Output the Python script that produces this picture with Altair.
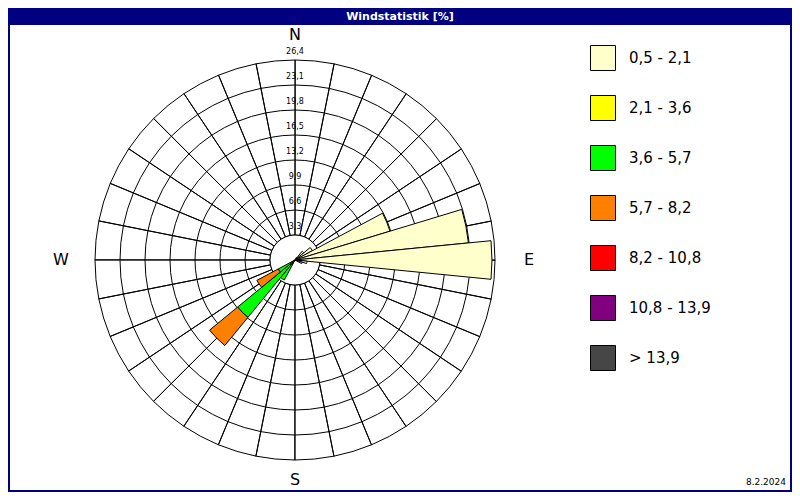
import altair as alt
import pandas as pd

# ---------------- data ----------------
title_text = "Windstatistik [%]"
date_text = "8.2.2024"

classes = ["0,5 - 2,1", "2,1 - 3,6", "3,6 - 5,7", "5,7 - 8,2",
           "8,2 - 10,8", "10,8 - 13,9", "\u00a0> 13,9"]
class_colors = ["#FFFFCC", "#FFFF00", "#00FF00", "#FF8000",
                "#FF0000", "#800080", "#464646"]

directions = [33.75, 45.0, 56.25, 67.5, 78.75, 90.0, 101.25, 112.5, 213.75, 225.0, 236.25]
c1 = [0.4, 1.5, 2.6, 13.1, 23.0, 26.0, 1.6, 1.0, 0.2, 0.4, 0.2]
c2 = [0.0, 0.0, 0.0, 0.0, 0.0, 0.0, 0.0, 0.0, 0.3, 0.5, 0.3]
c3 = [0.0, 0.0, 0.0, 0.0, 0.0, 0.0, 0.0, 0.0, 2.5, 8.9, 2.0]
c4 = [0.0, 0.0, 0.0, 0.0, 0.0, 0.0, 0.0, 0.0, 0.0, 4.8, 3.2]
c5 = [0.0] * 11
c6 = [0.0] * 11
c7 = [0.0] * 11

ring_values = [3.3, 6.6, 9.9, 13.2, 16.5, 19.8, 23.1, 26.4]
ring_labels = ["3,3", "6,6", "9,9", "13,2", "16,5", "19,8", "23,1", "26,4"]

compass_ns = ["N"]
compass_ns_deg = [0]
compass_ew = ["E", "W"]
compass_ew_deg = [90, 270]
compass_s = ["S"]
compass_s_deg = [180]

sector_width = 11.25
spoke_dirs = [i * sector_width for i in range(32)]

# ---------------- layout ----------------
W, H = 784, 484
CX, CY = 287, 252          # centre of the rose (page 295, 260)
NAVY = "#000080"
FONT = "DejaVu Sans"

theta_scale = alt.Scale(domain=[0, 360], range=[0, 6.283185307179586])
r_scale = alt.Scale(type="linear", domain=[0, 26.4], range=[0, 200], zero=True, nice=False)

# bar table (stacked by class)
rows = []
series = [c1, c2, c3, c4, c5, c6, c7]
for i, d in enumerate(directions):
    cum = 0.0
    for k, s in enumerate(series):
        v = s[i]
        if v > 0:
            rows.append({"dir": d, "t0": d - sector_width / 2, "t1": d + sector_width / 2,
                         "r0": cum, "r1": cum + v, "cls": classes[k], "order": k})
            cum += v
bars_df = pd.DataFrame(rows)

rings_df = pd.DataFrame({"r": ring_values, "lab": ring_labels, "t0": 0.0, "t1": 360.0})
inner_df = rings_df.iloc[[0]]
spokes_df = pd.DataFrame({"t0": spoke_dirs,
                          "t1": [s + 0.05 for s in spoke_dirs],
                          "r0": ring_values[0], "r1": ring_values[-1]})
one = pd.DataFrame({"title": [title_text], "date": [date_text]})

cx = alt.value(CX)
cy = alt.value(CY)

bg = alt.Chart(one).mark_rect(fill="white", stroke=NAVY, strokeWidth=2).encode(
    x=alt.value(1), x2=alt.value(W - 1), y=alt.value(0), y2=alt.value(H - 1))

rings = alt.Chart(rings_df).mark_arc(stroke="black", strokeWidth=1, fillOpacity=0).encode(
    x=cx, y=cy,
    theta=alt.Theta("t0:Q", scale=theta_scale, stack=None), theta2="t1:Q",
    radius=alt.Radius("r:Q", scale=r_scale))

spokes = alt.Chart(spokes_df).mark_arc(stroke="black", strokeWidth=1, fillOpacity=0).encode(
    x=cx, y=cy,
    theta=alt.Theta("t0:Q", scale=theta_scale, stack=None), theta2="t1:Q",
    radius=alt.Radius("r1:Q", scale=r_scale), radius2="r0:Q")

inner = alt.Chart(inner_df).mark_arc(stroke="black", strokeWidth=1, fill="white").encode(
    x=cx, y=cy,
    theta=alt.Theta("t0:Q", scale=theta_scale, stack=None), theta2="t1:Q",
    radius=alt.Radius("r:Q", scale=r_scale))

ring_text = alt.Chart(rings_df).mark_text(
    font=FONT, fontSize=8, color="black", baseline="middle", align="center", dy=-8.5
).encode(
    x=cx, y=cy,
    theta=alt.Theta("t0:Q", scale=theta_scale, stack=None),
    radius=alt.Radius("r:Q", scale=r_scale),
    text="lab:N")

bars = alt.Chart(bars_df).mark_arc(stroke="black", strokeWidth=1).encode(
    x=cx, y=cy,
    theta=alt.Theta("t0:Q", scale=theta_scale, stack=None), theta2="t1:Q",
    radius=alt.Radius("r1:Q", scale=r_scale), radius2="r0:Q",
    color=alt.Color("cls:N", scale=alt.Scale(domain=classes, range=class_colors),
                    legend=alt.Legend(orient="none", legendX=582, legendY=37, title=None,
                                      symbolType="square", symbolSize=625,
                                      symbolStrokeColor="black", symbolStrokeWidth=1,
                                      symbolOpacity=1,
                                      labelFont=FONT, labelFontSize=15, labelColor="black",
                                      labelOffset=13, rowPadding=20, padding=0,
                                      labelLimit=300)),
    order=alt.Order("order:Q"))


def compass_layer(labels, degs, rad):
    df = pd.DataFrame({"lab": labels, "deg": degs})
    return alt.Chart(df).mark_text(
        font=FONT, fontSize=16, color="black", baseline="middle", align="center"
    ).encode(
        x=cx, y=cy,
        theta=alt.Theta("deg:Q", scale=theta_scale, stack=None),
        radius=alt.value(rad),
        text="lab:N")


comp_n = compass_layer(compass_ns, compass_ns_deg, 225)
comp_ew = compass_layer(compass_ew, compass_ew_deg, 234)
comp_s = compass_layer(compass_s, compass_s_deg, 220)

title_bar = alt.Chart(one).mark_rect(fill=NAVY).encode(
    x=alt.value(0), x2=alt.value(W), y=alt.value(0), y2=alt.value(17))

title = alt.Chart(one).mark_text(
    font=FONT, fontSize=11, fontWeight="bold", color="white", baseline="middle", align="center"
).encode(x=alt.value(W / 2), y=alt.value(8.5), text="title:N")

date = alt.Chart(one).mark_text(
    font=FONT, fontSize=9, color="black", baseline="middle", align="right"
).encode(x=alt.value(W - 6), y=alt.value(H - 10), text="date:N")

chart = alt.layer(bg, rings, spokes, inner, ring_text, bars, comp_n, comp_ew, comp_s,
                  title_bar, title, date).properties(
    width=W, height=H, padding=0,
    autosize=alt.AutoSizeParams(type="none"),
    background="white",
).configure_view(strokeWidth=0)

chart.save("out.html", embed_options={"renderer": "svg", "actions": False})
